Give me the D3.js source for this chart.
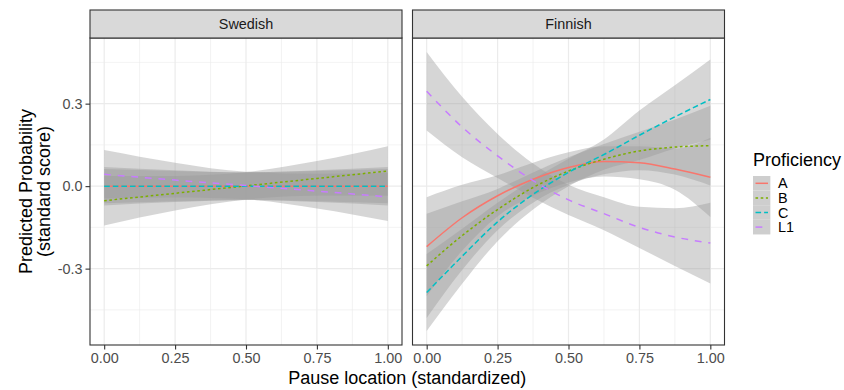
<!DOCTYPE html>
<html><head><meta charset="utf-8">
<script src="https://cdn.jsdelivr.net/npm/d3@7"></script>
<style>
body{margin:0;background:#fff}
text{font-family:"Liberation Sans",Arial,Helvetica,sans-serif}
</style>
</head><body>
<svg id="chart" width="844" height="390"></svg>
<script>
// ---------- data ----------
const seriesNames = ["A","B","C","L1"];
const panelNames = ["Swedish","Finnish"];
const xTicks = [0,0.25,0.5,0.75,1];
const xTickLabels = ["0.00","0.25","0.50","0.75","1.00"];
const yTicks = [-0.3,0,0.3];
const yTickLabels = ["-0.3","0.0","0.3"];

// Swedish
const sweX   = [0,0.25,0.5,0.75,1];
const sweA   = [0,0,0,0,0];
const sweB   = [-0.053,-0.026,0.001,0.028,0.055];
const sweC   = [0,0,0,0,0];
const sweL1  = [0.043,0.022,0.002,-0.018,-0.039];
const sweA_ci  = [0.07,0.058,0.05,0.058,0.07];
const sweB_ci  = [0.09,0.063,0.05,0.063,0.09];
const sweC_ci  = [0.062,0.055,0.05,0.055,0.062];
const sweL1_ci = [0.088,0.063,0.05,0.063,0.088];

// Finnish
const finX   = [0,0.125,0.25,0.375,0.5,0.625,0.75,0.875,1];
const finA   = [-0.22,-0.115,-0.035,0.025,0.068,0.09,0.085,0.062,0.032];
const finB   = [-0.29,-0.18,-0.085,-0.005,0.055,0.098,0.128,0.142,0.147];
const finC   = [-0.387,-0.255,-0.13,-0.03,0.05,0.115,0.185,0.252,0.315];
const finL1  = [0.345,0.215,0.11,0.02,-0.05,-0.1,-0.15,-0.185,-0.207];
const finA_ci  = [0.18,0.12,0.075,0.06,0.055,0.055,0.06,0.075,0.144];
const finB_ci  = [0.19,0.125,0.075,0.055,0.05,0.055,0.07,0.1,0.145];
const finC_ci  = [0.14,0.1,0.07,0.055,0.05,0.055,0.09,0.115,0.146];
const finL1_ci = [0.143,0.11,0.08,0.062,0.055,0.06,0.075,0.105,0.147];

const seriesColors = ["#F8766D","#7CAE00","#00BFC4","#C77CFF"];
const seriesDash = [null,"2.6,2.6","5.6,3","6.8,6.8"];

// ---------- build ----------
function build(xs, vals, cis){
  return seriesNames.map((s,i)=>({
    name:s, color:seriesColors[i], dash:seriesDash[i],
    pts: xs.map((x,j)=>({x, y:vals[i][j], lo:vals[i][j]-cis[i][j], hi:vals[i][j]+cis[i][j]}))
  }));
}
const panelData = [
  build(sweX,[sweA,sweB,sweC,sweL1],[sweA_ci,sweB_ci,sweC_ci,sweL1_ci]),
  build(finX,[finA,finB,finC,finL1],[finA_ci,finB_ci,finC_ci,finL1_ci])
];

const svg = d3.select("#chart");
const panelLeft = [90, 412.5], panelW = 312;
const panelTop = 38, panelBottom = 345, stripTop = 10;

// y domain like ggplot: data range expanded by 5%
const allLo = d3.min(panelData.flat(), s=>d3.min(s.pts, p=>p.lo));
const allHi = d3.max(panelData.flat(), s=>d3.max(s.pts, p=>p.hi));
const yr = allHi-allLo;
const y = d3.scaleLinear().domain([allLo-0.05*yr, allHi+0.05*yr]).range([panelBottom, panelTop]);
const xDom = [-0.05, 1.05];

const yMinor = [-0.45,-0.15,0.15,0.45];
const xMinor = [0.125,0.375,0.625,0.875];
const LW = 1.5;

panelData.forEach((series, pi)=>{
  const x = d3.scaleLinear().domain(xDom).range([panelLeft[pi], panelLeft[pi]+panelW]);
  const g = svg.append("g");
  g.append("rect").attr("x",panelLeft[pi]).attr("y",panelTop).attr("width",panelW).attr("height",panelBottom-panelTop).attr("fill","#fff");
  // minor grid
  g.selectAll(".ym").data(yMinor.filter(v=>v>y.domain()[0]&&v<y.domain()[1])).join("line")
    .attr("x1",panelLeft[pi]).attr("x2",panelLeft[pi]+panelW).attr("y1",d=>y(d)).attr("y2",d=>y(d))
    .attr("stroke","#EBEBEB").attr("stroke-width",0.6);
  g.selectAll(".xm").data(xMinor).join("line")
    .attr("y1",panelTop).attr("y2",panelBottom).attr("x1",d=>x(d)).attr("x2",d=>x(d))
    .attr("stroke","#EBEBEB").attr("stroke-width",0.6);
  // major grid
  g.selectAll(".yM").data(yTicks).join("line")
    .attr("x1",panelLeft[pi]).attr("x2",panelLeft[pi]+panelW).attr("y1",d=>y(d)).attr("y2",d=>y(d))
    .attr("stroke","#EBEBEB").attr("stroke-width",1.2);
  g.selectAll(".xM").data(xTicks).join("line")
    .attr("y1",panelTop).attr("y2",panelBottom).attr("x1",d=>x(d)).attr("x2",d=>x(d))
    .attr("stroke","#EBEBEB").attr("stroke-width",1.2);

  const area = d3.area().x(d=>x(d.x)).y0(d=>y(d.lo)).y1(d=>y(d.hi)).curve(d3.curveMonotoneX);
  const line = d3.line().x(d=>x(d.x)).y(d=>y(d.y)).curve(d3.curveMonotoneX);
  series.forEach(s=>{
    g.append("path").attr("d",area(s.pts)).attr("fill","#999999").attr("fill-opacity",0.4);
  });
  series.forEach(s=>{
    g.append("path").attr("d",line(s.pts)).attr("fill","none").attr("stroke",s.color)
      .attr("stroke-width",LW).attr("stroke-dasharray",s.dash);
  });
  // border
  g.append("rect").attr("x",panelLeft[pi]).attr("y",panelTop).attr("width",panelW).attr("height",panelBottom-panelTop)
    .attr("fill","none").attr("stroke","#333333").attr("stroke-width",1.1);
  // strip
  g.append("rect").attr("x",panelLeft[pi]).attr("y",stripTop).attr("width",panelW).attr("height",panelTop-stripTop)
    .attr("fill","#D9D9D9").attr("stroke","#333333").attr("stroke-width",1.1);
  g.append("text").attr("x",panelLeft[pi]+panelW/2).attr("y",(stripTop+panelTop)/2+5)
    .attr("text-anchor","middle").attr("font-size",14.4).attr("fill","#1A1A1A").text(panelNames[pi]);
  // x axis
  const xa = svg.append("g").attr("transform",`translate(0,${panelBottom})`)
    .call(d3.axisBottom(x).tickValues(xTicks).tickFormat((d,i)=>xTickLabels[i]).tickSize(4.5).tickPadding(3));
  xa.select(".domain").remove();
  xa.selectAll("line").attr("stroke","#333333").attr("stroke-width",1.1);
  xa.selectAll("text").attr("font-size",14.4).attr("fill","#4D4D4D").attr("font-family","Liberation Sans, Arial, sans-serif");
});

// y axis (left panel only)
const ya = svg.append("g").attr("transform",`translate(${panelLeft[0]},0)`)
  .call(d3.axisLeft(y).tickValues(yTicks).tickFormat((d,i)=>yTickLabels[i]).tickSize(4.5).tickPadding(3));
ya.select(".domain").remove();
ya.selectAll("line").attr("stroke","#333333").attr("stroke-width",1.1);
ya.selectAll("text").attr("font-size",14.4).attr("fill","#4D4D4D").attr("font-family","Liberation Sans, Arial, sans-serif");

// axis titles
const midY = (panelTop+panelBottom)/2;
svg.append("text").attr("transform",`translate(32,${midY}) rotate(-90)`).attr("text-anchor","middle")
  .attr("font-size",18).attr("fill","#000").text("Predicted Probability");
svg.append("text").attr("transform",`translate(50,${midY}) rotate(-90)`).attr("text-anchor","middle")
  .attr("font-size",18).attr("fill","#000").text("(standard score)");
svg.append("text").attr("x",(panelLeft[0]+panelLeft[1]+panelW)/2).attr("y",384).attr("text-anchor","middle")
  .attr("font-size",18).attr("fill","#000").text("Pause location (standardized)");

// legend
const lg = svg.append("g");
lg.append("text").attr("x",753).attr("y",166).attr("font-size",18).attr("fill","#000").text("Proficiency");
const keyH = 14.6, keyW = 17.3, keyTop = 176;
seriesNames.forEach((s,i)=>{
  const ky = keyTop + i*keyH;
  lg.append("rect").attr("x",753).attr("y",ky).attr("width",keyW).attr("height",keyH).attr("fill","#F2F2F2");
  lg.append("rect").attr("x",753).attr("y",ky).attr("width",keyW).attr("height",keyH).attr("fill","#999999").attr("fill-opacity",0.4);
  lg.append("line").attr("x1",755.5).attr("x2",768).attr("y1",ky+keyH/2).attr("y2",ky+keyH/2)
    .attr("stroke",seriesColors[i]).attr("stroke-width",LW).attr("stroke-dasharray",seriesDash[i]);
  lg.append("text").attr("x",778).attr("y",ky+keyH/2+5).attr("font-size",14.4).attr("fill","#000").text(s);
});
</script>
</body></html>
